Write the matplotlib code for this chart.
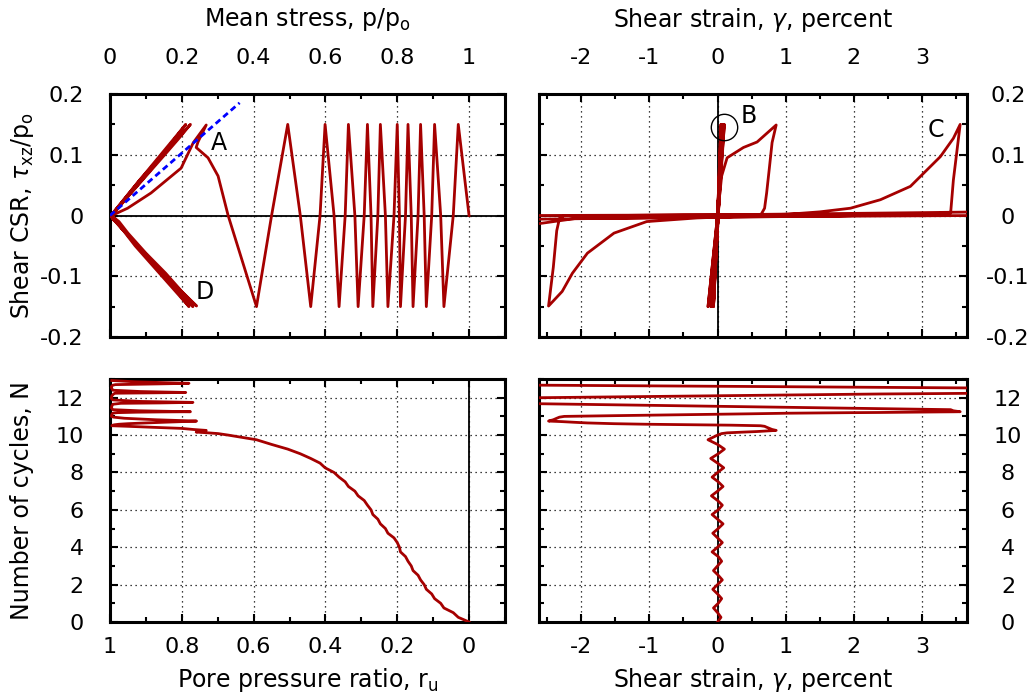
import numpy as np
import matplotlib.pyplot as plt
from matplotlib.ticker import MultipleLocator

plt.rcParams['font.family'] = ['DejaVu Sans']
plt.rcParams['mathtext.fontset'] = 'dejavusans'

# time history of the test: cycles N, mean stress p/po, shear CSR tau/po, shear strain gamma (%)
N = [0.00, 0.25, 0.50, 0.75, 1.00, 1.25, 1.50, 1.75, 2.00, 2.25, 2.50, 2.75,
     3.00, 3.25, 3.50, 3.75, 4.00, 4.25, 4.50, 4.75, 5.00, 5.25, 5.50, 5.75,
     6.00, 6.25, 6.50, 6.75, 7.00, 7.25, 7.50, 7.75, 8.00, 8.25, 8.50, 8.75,
     9.00, 9.25, 9.50, 9.75,
     10.00, 10.08, 10.12, 10.16, 10.19, 10.25, 10.30, 10.36, 10.42, 10.47,
     10.50, 10.53, 10.55, 10.58, 10.61, 10.65, 10.69, 10.72, 10.75, 10.82,
     10.90, 10.96, 11.00, 11.04, 11.09, 11.14, 11.17, 11.185, 11.20, 11.21,
     11.225, 11.24, 11.245, 11.25, 11.30, 11.36, 11.45, 11.55, 11.65, 11.70,
     11.72, 11.75, 11.80, 11.88, 11.95, 12.00, 12.10, 12.20, 12.22, 12.24,
     12.26, 12.28, 12.33, 12.40, 12.52, 12.60, 12.67, 12.70, 12.74, 12.77,
     12.85, 12.92]

p = [1.000, 0.970, 0.956, 0.930, 0.921, 0.904, 0.896, 0.881, 0.875, 0.865, 0.858, 0.844,
     0.839, 0.830, 0.823, 0.809, 0.806, 0.800, 0.791, 0.774, 0.767, 0.753, 0.746, 0.732,
     0.727, 0.717, 0.708, 0.691, 0.682, 0.664, 0.655, 0.638, 0.624, 0.599, 0.585, 0.559,
     0.530, 0.495, 0.450, 0.408,
     0.329, 0.301, 0.273, 0.240, 0.245, 0.268, 0.232, 0.198, 0.114, 0.049,
     0.005, 0.008, 0.012, 0.025, 0.050, 0.100, 0.155, 0.200, 0.241, 0.128,
     0.040, 0.010, 0.004, 0.004, 0.005, 0.006, 0.008, 0.012, 0.020, 0.042,
     0.075, 0.148, 0.192, 0.224, 0.082, 0.008, 0.004, 0.005, 0.008, 0.030,
     0.140, 0.231, 0.085, 0.008, 0.004, 0.004, 0.005, 0.010, 0.012, 0.014,
     0.120, 0.211, 0.085, 0.008, 0.004, 0.004, 0.008, 0.015, 0.140, 0.220,
     0.070, 0.005]

tau = [0.000, 0.150, 0.000, -0.150, 0.000, 0.150, 0.000, -0.150, 0.000, 0.150, 0.000, -0.150,
       0.000, 0.150, 0.000, -0.150, 0.000, 0.150, 0.000, -0.150, 0.000, 0.150, 0.000, -0.150,
       0.000, 0.150, 0.000, -0.150, 0.000, 0.150, 0.000, -0.150, 0.000, 0.150, 0.000, -0.150,
       0.000, 0.150, 0.000, -0.150,
       0.000, 0.065, 0.095, 0.112, 0.121, 0.149, 0.120, 0.078, 0.037, 0.012,
       0.000, -0.002, -0.004, -0.010, -0.029, -0.062, -0.095, -0.125, -0.149, -0.085,
       -0.025, -0.005, 0.000, 0.000, 0.001, 0.001, 0.002, 0.006, 0.012, 0.026,
       0.048, 0.097, 0.127, 0.150, 0.058, 0.004, -0.001, -0.003, -0.005, -0.020,
       -0.090, -0.150, -0.055, -0.005, 0.000, 0.000, 0.001, 0.004, 0.005, 0.006,
       0.080, 0.150, 0.060, 0.004, 0.000, -0.002, -0.006, -0.010, -0.090, -0.150,
       -0.050, 0.000]

gamma = [0.00, 0.05, 0.00, -0.06, 0.01, 0.06, 0.00, -0.07, 0.00, 0.07, 0.01, -0.06,
         0.00, 0.06, 0.01, -0.08, 0.00, 0.07, 0.00, -0.07, 0.01, 0.08, 0.00, -0.08,
         0.01, 0.07, 0.00, -0.09, 0.00, 0.08, 0.01, -0.08, 0.00, 0.09, 0.00, -0.10,
         0.01, 0.10, 0.00, -0.14,
         0.00, 0.06, 0.14, 0.38, 0.58, 0.86, 0.80, 0.76, 0.72, 0.69,
         0.63, 0.20, -0.30, -1.04, -1.52, -1.91, -2.13, -2.28, -2.48, -2.41,
         -2.36, -2.32, -2.25, -1.50, -0.50, 0.50, 1.02, 1.50, 1.95, 2.39,
         2.83, 3.27, 3.46, 3.56, 3.46, 3.42, 1.71, -0.19, -2.09, -3.04,
         -3.60, -4.00, -3.90, -3.80, -3.50, -2.60, -0.10, 2.40, 3.20, 3.90,
         4.20, 4.50, 4.40, 4.30, 3.80, 0.50, -2.60, -3.80, -5.00, -5.30,
         -5.20, -5.10]

ru = [1.0 - v for v in p]

# failure line drawn in the stress path plot
fail_p = [0.0, 0.361]
fail_tau = [0.0, 0.1855]

# tick positions / labels
p_ticks = [0, 0.2, 0.4, 0.6, 0.8, 1.0]
p_labels = ['0', '0.2', '0.4', '0.6', '0.8', '1']
ru_ticks = [1.0, 0.8, 0.6, 0.4, 0.2, 0.0]
ru_labels = ['1', '0.8', '0.6', '0.4', '0.2', '0']
tau_ticks = [-0.2, -0.1, 0.0, 0.1, 0.2]
tau_labels = ['-0.2', '-0.1', '0', '0.1', '0.2']
g_ticks = [-2, -1, 0, 1, 2, 3]
g_labels = ['-2', '-1', '0', '1', '2', '3']
n_ticks = [0, 2, 4, 6, 8, 10, 12]
n_labels = ['0', '2', '4', '6', '8', '10', '12']

RED = '#a50000'
FS = 16     # tick labels
LFS = 17    # axis labels

fig = plt.figure(figsize=(10.32, 6.98), dpi=100)
ax_tl = fig.add_axes([0.1066, 0.5172, 0.3827, 0.3481])
ax_tr = fig.add_axes([0.5223, 0.5172, 0.4147, 0.3481])
ax_bl = fig.add_axes([0.1066, 0.1089, 0.3827, 0.3481])
ax_br = fig.add_axes([0.5223, 0.1089, 0.4147, 0.3481])


def style(ax, xside, yside):
    for s in ax.spines.values():
        s.set_linewidth(2.2)
    ax.grid(True, which='major', color='k', lw=0.9, ls=(0, (1, 3)))
    ax.set_axisbelow(True)
    ax.axhline(0, color='k', lw=1.3, zorder=1.5)
    ax.axvline(0, color='k', lw=1.3, zorder=1.5)
    ax.tick_params(which='both', direction='in', top=True, bottom=True,
                   left=True, right=True, width=1.5, labelsize=FS,
                   labeltop=(xside == 'top'), labelbottom=(xside == 'bottom'),
                   labelleft=(yside == 'left'), labelright=(yside == 'right'))
    ax.tick_params(which='major', length=6)
    ax.tick_params(which='minor', length=3.5)
    ax.tick_params(axis='x', which='major', pad=19 if xside == 'top' else 11)
    ax.tick_params(axis='y', which='major', pad=19 if yside == 'left' else 29.5)
    if yside == 'right':
        for t in ax.yaxis.get_major_ticks():
            t.label2.set_horizontalalignment('center')


# stress path
ax_tl.plot(p, tau, color=RED, lw=2.0, zorder=3)
ax_tl.plot(fail_p, fail_tau, color='#0000ff', lw=2, dashes=(2.2, 1.4), zorder=4)
ax_tl.set_xlim(0, 1.1)
ax_tl.set_ylim(-0.2, 0.2)
ax_tl.set_xticks(p_ticks, p_labels)
ax_tl.set_yticks(tau_ticks, tau_labels)
ax_tl.xaxis.set_minor_locator(MultipleLocator(0.1))
ax_tl.yaxis.set_minor_locator(MultipleLocator(0.05))
style(ax_tl, 'top', 'left')
ax_tl.xaxis.set_label_position('top')
ax_tl.set_xlabel(r'Mean stress, p/p$_\mathregular{o}$', fontsize=LFS)
ax_tl.xaxis.set_label_coords(0.5, 1.305)
ax_tl.set_ylabel(r'Shear CSR, $\tau_\mathregular{xz}$/p$_\mathregular{o}$', fontsize=LFS)
ax_tl.yaxis.set_label_coords(-0.222, 0.5)
ax_tl.text(0.302, 0.119, 'A', fontsize=FS + 1, va='center', ha='center', zorder=5)
ax_tl.text(0.264, -0.126, 'D', fontsize=FS + 1, va='center', ha='center', zorder=5)

# stress-strain
ax_tr.plot(gamma, tau, color=RED, lw=2.0, zorder=3)
ax_tr.plot([0.098], [0.146], marker='o', ms=19, mfc='none', mec='k', mew=1.0, zorder=4)
ax_tr.set_xlim(-2.62, 3.66)
ax_tr.set_ylim(-0.2, 0.2)
ax_tr.set_xticks(g_ticks, g_labels)
ax_tr.set_yticks(tau_ticks, tau_labels)
ax_tr.xaxis.set_minor_locator(MultipleLocator(0.5))
ax_tr.yaxis.set_minor_locator(MultipleLocator(0.05))
style(ax_tr, 'top', 'right')
ax_tr.xaxis.set_label_position('top')
ax_tr.set_xlabel(r'Shear strain, $\gamma$, percent', fontsize=LFS)
ax_tr.xaxis.set_label_coords(0.5, 1.305)
ax_tr.text(0.455, 0.164, 'B', fontsize=FS + 1, va='center', ha='center', zorder=5)
ax_tr.text(3.21, 0.141, 'C', fontsize=FS + 1, va='center', ha='center', zorder=5)

# pore pressure build-up
ax_bl.plot(ru, N, color=RED, lw=2.0, zorder=3)
ax_bl.set_xlim(1.0, -0.1)
ax_bl.set_ylim(0, 13)
ax_bl.set_xticks(ru_ticks, ru_labels)
ax_bl.set_yticks(n_ticks, n_labels)
ax_bl.xaxis.set_minor_locator(MultipleLocator(0.1))
ax_bl.yaxis.set_minor_locator(MultipleLocator(1))
style(ax_bl, 'bottom', 'left')
ax_bl.set_xlabel(r'Pore pressure ratio, r$_\mathregular{u}$', fontsize=LFS)
ax_bl.xaxis.set_label_coords(0.5, -0.24)
ax_bl.set_ylabel('Number of cycles, N', fontsize=LFS)
ax_bl.yaxis.set_label_coords(-0.222, 0.5)

# strain history
ax_br.plot(gamma, N, color=RED, lw=2.0, zorder=3)
ax_br.set_xlim(-2.62, 3.66)
ax_br.set_ylim(0, 13)
ax_br.set_xticks(g_ticks, g_labels)
ax_br.set_yticks(n_ticks, n_labels)
ax_br.xaxis.set_minor_locator(MultipleLocator(0.5))
ax_br.yaxis.set_minor_locator(MultipleLocator(1))
style(ax_br, 'bottom', 'right')
ax_br.set_xlabel(r'Shear strain, $\gamma$, percent', fontsize=LFS)
ax_br.xaxis.set_label_coords(0.5, -0.24)

for a in (ax_tl, ax_tr, ax_bl, ax_br):
    a.xaxis.label.set_va('center')
    a.yaxis.label.set_va('center')

fig.savefig('out.png', dpi=100)
